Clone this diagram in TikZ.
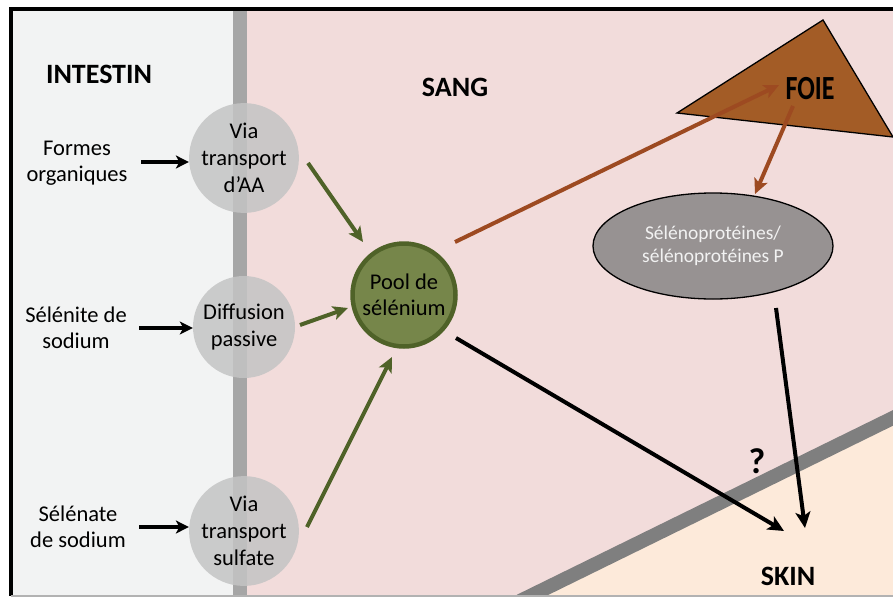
\documentclass[tikz,border=0pt]{standalone}
\usepackage{fontspec}
\setmainfont{Carlito}
\usetikzlibrary{arrows.meta,shapes.geometric}
\definecolor{intbg}{HTML}{F2F3F3}
\definecolor{sangbg}{HTML}{F2DCDB}
\definecolor{skinbg}{HTML}{FDEADA}
\definecolor{barcol}{HTML}{A6A6A6}
\definecolor{diagcol}{HTML}{7F7F7F}
\definecolor{circcol}{HTML}{C4C4C4}
\definecolor{poolfill}{HTML}{76864A}
\definecolor{poolline}{HTML}{4F6228}
\definecolor{greenarr}{HTML}{4F6228}
\definecolor{brownarr}{HTML}{9D4A21}
\definecolor{foiefill}{HTML}{A35C26}
\definecolor{ellfill}{HTML}{979292}
\definecolor{elltext}{HTML}{F2F2F2}
\tikzset{
  bodytxt/.style={align=center,font=\fontsize{22.5}{26.5}\selectfont,inner sep=0pt},
  headtxt/.style={font=\fontsize{28}{32}\selectfont\bfseries,inner sep=0pt},
  gcirc/.style={circle,minimum size=102pt,inner sep=0pt,fill=circcol,fill opacity=0.85,text opacity=1,align=center,font=\fontsize{22.5}{27}\selectfont},
  poolcirc/.style={circle,minimum size=103pt,inner sep=0pt,fill=poolfill,draw=poolline,line width=4.5pt,align=center,font=\fontsize{22.5}{26}\selectfont},
  ellnode/.style={ellipse,minimum width=240pt,minimum height=106pt,inner sep=0pt,fill=ellfill,draw=black,line width=1.3pt,align=center,text=elltext,font=\fontsize{19.5}{23.5}\selectfont},
  blkarr/.style={line width=4pt,-{Stealth[length=16pt,width=15pt,inset=4pt]}},
  smallarr/.style={line width=3.6pt,-{Stealth[length=13pt,width=13pt,inset=3.5pt]}},
  grnarr/.style={line width=4pt,draw=greenarr,-{Stealth[length=15pt,width=14pt,inset=3.5pt]}},
  brnarr/.style={line width=4pt,draw=brownarr,-{Stealth[length=15pt,width=14pt,inset=3.5pt]}},
}
\begin{document}
\begin{tikzpicture}[x=1pt,y=-1pt]
\useasboundingbox (0,0) rectangle (893,597);
\fill[white] (0,0) rectangle (893,597);
% background regions
\fill[intbg] (11,9) rectangle (240,595);
\fill[sangbg] (240,9) rectangle (893,595);
\begin{scope}
  \clip (240,9) rectangle (893,595);
  \fill[skinbg] (520,601) -- (905,412) -- (905,610) -- cycle;
  \draw[diagcol,line width=14pt] (520,601) -- (905,412);
\end{scope}
\fill[barcol] (233,9) rectangle (247,595);
% frame
\draw[line width=4.5pt] (9,9) -- (893,9);
\draw[line width=4pt] (11,9) -- (11,596);
\draw[gray!60,line width=1.5pt] (11,596) -- (893,596);
% headings
\node[headtxt] (intestin) at (99,74) {INTESTIN};
\node[headtxt] (sang) at (455,87) {SANG};
\node[headtxt] (skin) at (788,576) {SKIN};
% liver
\coordinate (t1) at (677,113);
\coordinate (t2) at (823,20);
\coordinate (t3) at (893,137);
\fill[foiefill,draw=black,line width=1.3pt] (t1) -- (t2) -- (t3) -- cycle;
\node[font=\fontsize{26}{30}\selectfont\bfseries,inner sep=0pt] (foie) at (810,89) {\scalebox{1}[1.3]{FOIE}};
% sources
\node[bodytxt] (formes) at (77,163) {Formes\\organiques};
\node[bodytxt] (selenite) at (76,328) {Sélénite de\\sodium};
\node[bodytxt] (selenate) at (78,527) {Sélénate\\de sodium};
% transport circles
\node[gcirc] (via1) at (244,158) {Via\\transport\\d’AA};
\node[gcirc] (diff) at (244,327) {Diffusion\\passive};
\node[gcirc] (via2) at (244,531) {Via\\transport\\sulfate};
% pool
\node[poolcirc] (pool) at (404,295) {Pool de\\sélénium};
% selenoproteins
\node[ellnode] (selp) at (713,246) {Sélénoprotéines/\\sélénoprotéines P};
% question mark
\node[font=\fontsize{36}{40}\selectfont\bfseries,inner sep=0pt] (qm) at (757,461) {?};
% left arrows
\coordinate (a1) at (141,162);
\coordinate (a2) at (139,328);
\coordinate (a3) at (139,527);
\draw[smallarr] (a1) -- (a1 -| via1.west);
\draw[smallarr] (a2) -- (a2 -| diff.west);
\draw[smallarr] (a3) -- (a3 -| via2.west);
% green arrows
\coordinate (g1s) at (308,163);
\coordinate (g1e) at (363,242);
\coordinate (g2s) at (300,325);
\coordinate (g2e) at (348,308);
\coordinate (g3s) at (307,527);
\coordinate (g3e) at (392,357);
\draw[grnarr] (g1s) -- (g1e);
\draw[grnarr] (g2s) -- (g2e);
\draw[grnarr] (g3s) -- (g3e);
% brown arrows
\coordinate (b1s) at (455,242);
\coordinate (b1e) at (779,85);
\coordinate (b2s) at (793,106);
\coordinate (b2e) at (755,194);
\draw[brnarr] (b1s) -- (b1e);
\draw[brnarr] (b2s) -- (b2e);
% black arrows to skin
\coordinate (k1s) at (456,338);
\coordinate (k1e) at (784,531);
\coordinate (k2s) at (776,308);
\coordinate (k2e) at (805,528);
\draw[blkarr] (k1s) -- (k1e);
\draw[blkarr] (k2s) -- (k2e);
\end{tikzpicture}
\end{document}
